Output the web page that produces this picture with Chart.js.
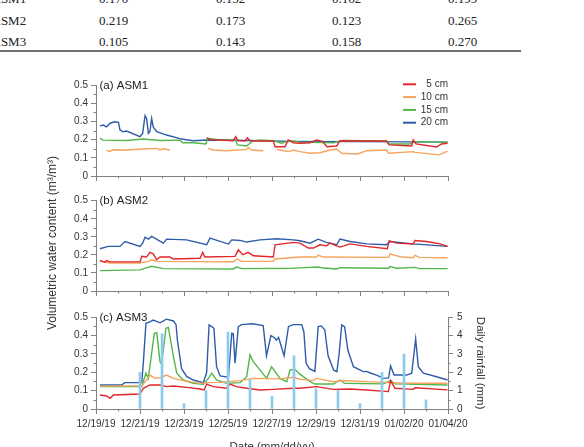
<!DOCTYPE html>
<html><head><meta charset="utf-8">
<script src="https://cdn.jsdelivr.net/npm/chart.js@4.4.1/dist/chart.umd.min.js"></script>
<style>
body{margin:0;width:584px;height:447px;overflow:hidden;background:#fff;position:relative;font-family:"Liberation Sans",Arial,sans-serif;}
canvas{position:absolute;left:0;}
.tb{position:absolute;font-family:"Liberation Serif","Times New Roman",serif;font-size:13px;color:#222;line-height:13px;white-space:nowrap}
.rule{position:absolute;left:0;width:521px;top:50px;height:1.5px;background:#707070}
.ytitle{position:absolute;font-size:12px;color:#333;white-space:nowrap;line-height:12px;transform-origin:center center}
.xtitle{position:absolute;font-size:11.5px;color:#333;white-space:nowrap;line-height:11.5px}
</style></head><body>
<div id="table"></div>
<div class="rule"></div>
<canvas id="ca" width="584" height="120" style="top:70px"></canvas>
<canvas id="cb" width="584" height="110" style="top:190px"></canvas>
<canvas id="cc" width="584" height="147" style="top:300px"></canvas>
<div class="ytitle" id="ytitle">Volumetric water content (m³/m³)</div>
<div class="xtitle" id="xtitle">Date (mm/dd/yy)</div>
<script>
// ---------- table ----------
const tableRows = ['ASM1', 'ASM2', 'ASM3'];
const tableVals = [
  ['0.170', '0.152', '0.162', '0.199'],
  ['0.219', '0.173', '0.123', '0.265'],
  ['0.105', '0.143', '0.158', '0.270']
];

// ---------- axes ----------
const majorDays = [0,2,4,6,8,10,12,14,16];
const minorDays = [1,3,5,7,9,11,13,15];
const dateLabels = ['12/19/19','12/21/19','12/23/19','12/25/19','12/27/19','12/29/19','12/31/19','01/02/20','01/04/20'];
const vwcTicks = [0,0.1,0.2,0.3,0.4,0.5];
const vwcMinor = [0.05,0.15,0.25,0.35,0.45];
const rainTicks = [0,1,2,3,4,5];
const rainMinor = [0.5,1.5,2.5,3.5,4.5];
const depthLabels = ['5 cm', '10 cm', '15 cm', '20 cm'];
const panelTitles = ['(a) ASM1', '(b) ASM2', '(c) ASM3'];

// ---------- data: [day since 12/19/19, VWC] ----------
const a5 = [[5.03,0.21],[5.2,0.2],[5.64,0.198],[6.24,0.194],[6.35,0.216],[6.45,0.194],[6.77,0.192],[6.88,0.21],[7.0,0.194],[7.5,0.192],[8.06,0.192],[8.14,0.161],[8.59,0.161],[8.74,0.198],[8.97,0.183],[9.27,0.18],[9.73,0.183],[10.03,0.198],[10.3,0.189],[10.5,0.161],[10.94,0.165],[11.09,0.194],[12.0,0.192],[13.2,0.192],[13.33,0.171],[14.35,0.165],[14.42,0.198],[14.55,0.176],[15.48,0.159],[15.7,0.176],[15.98,0.18]];
const a10 = [[0.48,0.143],[0.6,0.134],[0.78,0.144],[1.4,0.143],[2.15,0.148],[2.76,0.152],[2.91,0.143],[3.06,0.15],[3.36,0.143],[3.4,null],[5.1,0.152],[5.33,0.143],[5.94,0.139],[6.85,0.146],[6.93,0.156],[7.08,0.143],[7.6,0.139],[7.8,null],[8.21,0.146],[8.52,0.139],[8.82,0.134],[8.97,0.143],[9.27,0.134],[9.73,0.125],[10.18,0.128],[10.64,0.143],[10.94,0.148],[11.17,0.125],[11.9,0.121],[12.3,0.139],[13.2,0.143],[13.3,0.125],[14.42,0.134],[14.5,0.13],[15.6,0.116],[15.98,0.137]];
const a15 = [[0.18,0.209],[0.3,0.197],[1.39,0.195],[2.15,0.203],[2.91,0.195],[3.82,0.197],[3.94,0.183],[4.42,0.183],[5.0,0.176],[5.06,0.207],[5.64,0.198],[6.36,0.198],[6.42,0.171],[6.85,0.165],[7.08,0.189],[7.45,0.198],[8.06,0.194],[8.44,0.18],[8.67,0.189],[8.97,0.192],[9.27,0.186],[10.79,0.183],[11.24,0.195],[13.2,0.192],[13.3,0.176],[14.27,0.176],[14.42,0.189],[15.98,0.185]];
const a20 = [[0.18,0.275],[0.33,0.28],[0.48,0.27],[0.64,0.29],[0.86,0.298],[1.02,0.295],[1.09,0.253],[1.24,0.243],[1.39,0.247],[2.0,0.216],[2.12,0.234],[2.23,0.331],[2.3,0.316],[2.38,0.234],[2.45,0.243],[2.53,0.316],[2.6,0.27],[2.76,0.243],[3.21,0.225],[3.89,0.203],[4.42,0.194],[5.03,0.198],[7.0,0.195],[9.0,0.19],[12.0,0.189],[15.98,0.186]];

const b5 = [[0.18,0.17],[0.41,0.159],[0.48,0.168],[0.64,0.161],[2.0,0.161],[2.08,0.192],[2.3,0.188],[2.45,0.214],[2.6,0.206],[2.76,0.173],[2.91,0.188],[3.36,0.188],[3.52,0.177],[4.73,0.181],[4.85,0.214],[4.95,0.188],[6.32,0.192],[6.47,0.228],[6.67,0.201],[6.92,0.214],[7.15,0.195],[8.06,0.188],[8.14,0.256],[8.97,0.269],[9.27,0.265],[9.65,0.238],[9.88,0.238],[10.18,0.256],[10.48,0.25],[10.64,0.265],[10.94,0.25],[11.09,0.243],[11.55,0.261],[12.3,0.247],[13.24,0.234],[13.33,0.278],[13.67,0.265],[14.42,0.26],[14.5,0.28],[15.03,0.274],[15.64,0.261],[15.98,0.247]];
const b10 = [[0.18,0.164],[0.64,0.155],[2.0,0.155],[2.38,0.164],[2.53,0.173],[2.76,0.164],[6.24,0.162],[6.42,0.177],[6.62,0.164],[8.06,0.164],[8.14,0.177],[9.27,0.188],[10.03,0.188],[10.1,0.199],[10.33,0.188],[13.3,0.186],[13.36,0.206],[13.82,0.19],[14.42,0.184],[14.5,0.197],[14.7,0.186],[15.98,0.184]];
const b15 = [[0.18,0.113],[2.0,0.117],[2.53,0.137],[3.06,0.124],[6.24,0.122],[6.39,0.133],[6.62,0.124],[8.97,0.126],[9.27,0.128],[10.1,0.133],[10.33,0.127],[10.94,0.122],[11.09,0.129],[13.3,0.126],[13.36,0.135],[13.67,0.126],[14.5,0.131],[14.7,0.124],[15.98,0.124]];
const b20 = [[0.18,0.234],[0.56,0.247],[1.09,0.247],[1.32,0.274],[2.0,0.247],[2.12,0.265],[2.23,0.298],[2.38,0.287],[2.53,0.302],[3.06,0.265],[3.21,0.287],[4.12,0.283],[5.03,0.256],[5.18,0.293],[6.02,0.26],[6.17,0.283],[6.55,0.28],[6.85,0.271],[7.45,0.283],[8.21,0.289],[8.97,0.283],[9.27,0.278],[9.73,0.265],[10.1,0.287],[10.48,0.269],[10.94,0.256],[11.09,0.287],[11.55,0.274],[12.3,0.261],[13.2,0.256],[13.36,0.274],[14.42,0.261],[15.98,0.247]];

const c5 = [[0.18,0.076],[0.48,0.071],[0.64,0.058],[0.79,0.076],[2.0,0.082],[2.15,0.113],[2.45,0.131],[2.91,0.131],[3.21,0.122],[3.52,0.125],[4.12,0.118],[4.73,0.109],[4.91,0.104],[5.03,0.136],[5.33,0.122],[5.94,0.113],[6.09,0.136],[6.39,0.122],[6.85,0.113],[7.45,0.104],[8.06,0.107],[8.97,0.113],[9.27,0.113],[10.03,0.122],[10.79,0.107],[11.55,0.109],[12.3,0.104],[13.29,0.095],[13.39,0.155],[13.59,0.113],[14.42,0.107],[14.5,0.116],[15.98,0.104]];
const c10 = [[0.18,0.125],[2.08,0.127],[2.3,0.158],[2.45,0.185],[2.68,0.167],[2.98,0.173],[3.2,0.185],[3.52,0.167],[3.97,0.155],[4.73,0.14],[5.03,0.144],[5.64,0.145],[6.55,0.155],[7.15,0.167],[8.36,0.164],[8.97,0.173],[9.27,0.162],[9.88,0.155],[10.03,0.167],[10.79,0.149],[11.24,0.155],[12.3,0.149],[13.36,0.144],[14.42,0.14],[15.98,0.14]];
const c15 = [[0.18,0.122],[2.08,0.122],[2.27,0.195],[2.38,0.167],[2.65,0.413],[2.76,0.416],[2.91,0.258],[2.98,0.245],[3.18,0.44],[3.29,0.445],[3.52,0.285],[3.67,0.195],[3.97,0.158],[4.42,0.14],[4.88,0.135],[5.11,0.167],[5.26,0.195],[5.48,0.158],[5.94,0.14],[6.55,0.144],[6.85,0.176],[7.0,0.295],[7.15,0.258],[7.45,0.213],[7.76,0.167],[7.98,0.231],[8.36,0.167],[8.67,0.149],[8.82,0.213],[9.05,0.216],[9.27,0.19],[9.73,0.149],[9.95,0.136],[10.79,0.136],[11.09,0.158],[11.3,0.14],[13.06,0.137],[13.39,0.155],[13.59,0.137],[15.98,0.131]];
const c20 = [[0.18,0.131],[1.15,0.131],[1.32,0.144],[2.08,0.144],[2.15,0.25],[2.27,0.467],[2.45,0.475],[2.6,0.485],[2.91,0.47],[3.2,0.49],[3.52,0.48],[3.64,0.46],[3.7,0.376],[3.89,0.22],[4.12,0.178],[4.42,0.158],[4.88,0.144],[5.03,0.2],[5.14,0.458],[5.26,0.449],[5.36,0.44],[5.48,0.231],[5.64,0.18],[6.02,0.173],[6.17,0.413],[6.24,0.41],[6.32,0.25],[6.47,0.449],[6.62,0.46],[7.1,0.465],[7.6,0.455],[7.75,0.29],[7.95,0.4],[8.1,0.39],[8.2,0.375],[8.3,0.39],[8.55,0.29],[8.75,0.45],[8.97,0.46],[9.35,0.46],[9.45,0.42],[9.55,0.25],[9.7,0.22],[9.95,0.205],[10.1,0.449],[10.25,0.453],[10.4,0.431],[10.55,0.29],[10.8,0.213],[10.95,0.204],[11.05,0.3],[11.17,0.458],[11.3,0.449],[11.45,0.32],[11.7,0.231],[12.15,0.204],[12.3,0.205],[12.5,0.195],[12.76,0.185],[13.06,0.167],[13.3,0.17],[13.39,0.235],[13.55,0.185],[14.12,0.185],[14.35,0.195],[14.53,0.382],[14.65,0.231],[14.88,0.195],[15.48,0.176],[15.98,0.158]];

// ---------- daily rainfall (mm) ----------
const rainDays = [2,3,4,5,6,7,8,9,10,11,12,13,14,15];
const rainMm  = [2.0,4.1,0.3,1.0,4.2,1.6,0.7,2.9,1.1,1.0,0.3,2.0,3.0,0.5];

// ---------- styling ----------
const FONT = '"Liberation Sans", Arial, sans-serif';
const colors = ['#e2262b', '#f4a45e', '#53b64b', '#2f5ca8'];
const axisColor = '#808080';
const tickText = '#333';

// table & titles
(function(){
  const t = document.getElementById('table');
  const colX = [99, 216, 332, 448];
  const rowY = [-8, 13.5, 35];
  tableRows.forEach((r, i) => {
    const d = document.createElement('div'); d.className='tb';
    d.style.left='-8.5px'; d.style.top=rowY[i]+'px'; d.textContent=r; t.appendChild(d);
    tableVals[i].forEach((v, j) => {
      const e = document.createElement('div'); e.className='tb';
      e.style.left=colX[j]+'px'; e.style.top=rowY[i]+'px'; e.textContent=v; t.appendChild(e);
    });
  });
  const yt = document.getElementById('ytitle');
  yt.style.left = (52 - 110) + 'px'; yt.style.width='220px'; yt.style.textAlign='center';
  yt.style.top = (243 - 6) + 'px'; yt.style.transform='rotate(-90deg)';
  const xt = document.getElementById('xtitle');
  xt.style.left = (272 - 60) + 'px'; xt.style.width='120px'; xt.style.textAlign='center';
  xt.style.top = '441px';
})();

const toXY = arr => arr.map(([x, y]) => ({x, y}));

const panelTitlePlugin = {
  id: 'panelTitle',
  afterDraw(chart, args, opts) {
    const {ctx, chartArea} = chart;
    ctx.save();
    ctx.font = '11.5px ' + FONT;
    ctx.fillStyle = '#222';
    ctx.textBaseline = 'middle';
    ctx.textAlign = 'left';
    ctx.fillText(opts.text, chartArea.left + 3.5, chartArea.top + 0.5);
    ctx.restore();
  }
};
const depthLegendPlugin = {
  id: 'depthLegend',
  afterDraw(chart, args, opts) {
    if (!opts.show) return;
    const {ctx, chartArea} = chart;
    ctx.save();
    ctx.font = '10px ' + FONT;
    ctx.textBaseline = 'middle';
    ctx.textAlign = 'right';
    chart.data.datasets.forEach((ds, i) => {
      const y = chartArea.top - 0.7 + i * 12.8;
      ctx.strokeStyle = ds.borderColor; ctx.lineWidth = 2;
      ctx.beginPath(); ctx.moveTo(chartArea.right - 45, y); ctx.lineTo(chartArea.right - 32, y); ctx.stroke();
      ctx.fillStyle = '#333';
      ctx.fillText(ds.label, chartArea.right, y);
    });
    ctx.restore();
  }
};
const minorTickPlugin = {
  id: 'minorTicks',
  afterDraw(chart) {
    const {ctx} = chart;
    const {x, y, yR} = chart.scales;
    const len = 2.5;
    ctx.save();
    ctx.strokeStyle = axisColor; ctx.lineWidth = 1;
    ctx.beginPath();
    minorDays.forEach(v => { const p = Math.round(x.getPixelForValue(v)) + 0.5; ctx.moveTo(p, x.top); ctx.lineTo(p, x.top + len); });
    vwcMinor.forEach(v => { const p = Math.round(y.getPixelForValue(v)) + 0.5; ctx.moveTo(y.right, p); ctx.lineTo(y.right - len, p); });
    if (yR) rainMinor.forEach(v => { const p = Math.round(yR.getPixelForValue(v)) + 0.5; ctx.moveTo(yR.left, p); ctx.lineTo(yR.left + len, p); });
    ctx.stroke();
    ctx.restore();
  }
};

function lineSets(series) {
  return series.map((s, i) => ({
    type: 'line', label: depthLabels[i], data: toXY(s), borderColor: colors[i],
    borderWidth: 1.4, pointRadius: 0, tension: 0, spanGaps: false, order: 1 + i, yAxisID: 'y'
  }));
}

function makeChart(id, series, title, cfg) {
  const datasets = lineSets(series);
  if (cfg.rain) {
    datasets.push({ type: 'bar', label: 'Rainfall', data: rainDays.map((d, i) => ({x: d, y: rainMm[i]})),
      backgroundColor: '#8ccbec', barThickness: 2, yAxisID: 'yR', order: 0 });
  }
  const scales = {
    x: {
      type: 'linear', min: 0, max: 16, offset: false,
      afterBuildTicks: s => { s.ticks = majorDays.map(v => ({value: v})); },
      ticks: { display: cfg.xLabels, autoSkip: false, maxRotation: 0, padding: 4, color: tickText,
        font: {size: 10, family: FONT},
        callback: (v, i) => dateLabels[i] },
      grid: { offset: false, drawOnChartArea: false, tickLength: 5, tickColor: axisColor, color: axisColor },
      border: { color: axisColor, width: 1 },
      afterFit: s => { s.height = cfg.xh; }
    },
    y: {
      position: 'left', min: 0, max: 0.5,
      afterBuildTicks: s => { s.ticks = vwcTicks.map(v => ({value: v})); },
      ticks: { padding: 3, color: tickText, font: {size: 10, family: FONT},
        callback: v => (v === 0 ? '0' : v.toFixed(1)) },
      grid: { drawOnChartArea: false, tickLength: 5, tickColor: axisColor },
      border: { color: axisColor, width: 1 },
      afterFit: s => { s.width = 96; }
    }
  };
  if (cfg.rain) {
    scales.yR = {
      position: 'right', min: 0, max: 5,
      afterBuildTicks: s => { s.ticks = rainTicks.map(v => ({value: v})); },
      ticks: { padding: 4, color: tickText, font: {size: 10, family: FONT} },
      grid: { drawOnChartArea: false, tickLength: 5, tickColor: axisColor },
      border: { color: axisColor, width: 1 },
      title: { display: true, text: 'Daily rainfall (mm)', color: '#333', padding: 0,
        font: {size: 11.5, family: FONT} },
      afterFit: s => { s.width = 39; }
    };
  }
  return new Chart(document.getElementById(id), {
    type: 'line',
    data: { datasets },
    options: {
      responsive: false, animation: false,
      layout: { padding: { top: cfg.top, bottom: 0, left: 0, right: cfg.rain ? 97 : 136 } },
      scales,
      plugins: { legend: {display: false}, tooltip: {enabled: false},
        panelTitle: {text: title}, depthLegend: {show: !!cfg.legend} }
    },
    plugins: [panelTitlePlugin, depthLegendPlugin, minorTickPlugin]
  });
}

makeChart('ca', [a5, a10, a15, a20], panelTitles[0], {top: 15, xh: 14, xLabels: false, legend: true});
makeChart('cb', [b5, b10, b15, b20], panelTitles[1], {top: 10.7, xh: 8.5, xLabels: false});
makeChart('cc', [c5, c10, c15, c20], panelTitles[2], {top: 17.3, xh: 38, xLabels: true, rain: true});
</script>
</body></html>
